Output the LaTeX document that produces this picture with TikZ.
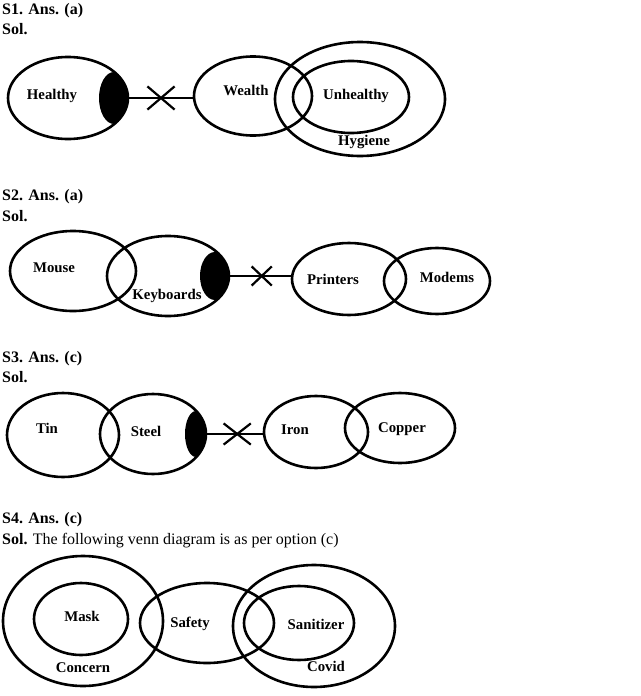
\documentclass[tikz,border=0pt]{standalone}
\usepackage{fontspec}
\setmainfont{Liberation Serif}
\usetikzlibrary{shapes.geometric,shapes.misc}
\tikzset{
  setel/.style={draw=black, ellipse, line width=2.6pt, inner sep=0pt},
  lab/.style={font=\fontsize{14.8}{16}\selectfont\bfseries, anchor=base, inner sep=0pt},
  head/.style={font=\fontsize{16}{18}\selectfont, anchor=base west, inner sep=0pt},
  link/.style={line width=2.2pt},
  xmark/.style={draw, cross out, line width=2.2pt, inner sep=0pt},
}
\begin{document}
\begin{tikzpicture}[x=1pt,y=-1pt]
\useasboundingbox[fill=white] (0,0) rectangle (640,696);

% ---------- S1 ----------
\node[head] (h1) at (2,14) {\textbf{S1. Ans. (a)}};
\node[head] (s1) at (2,34) {\textbf{Sol.}};
\begin{scope}
  \clip (68,98) ellipse [x radius=60, y radius=41];
  \fill (114,98) ellipse [x radius=15, y radius=26];
\end{scope}
\node[setel, minimum width=120pt, minimum height=82pt] (healthy) at (68,98) {};
\node[setel, minimum width=118pt, minimum height=79pt] (wealth) at (253,96) {};
\node[setel, minimum width=116pt, minimum height=72pt] (unhealthy) at (351,97) {};
\node[setel, minimum width=170pt, minimum height=114pt] (hygiene) at (360,99) {};
\draw[link] (healthy.east) -- node[xmark, minimum width=25pt, minimum height=21pt, pos=0.5] (x1) {} (healthy.east -| wealth.west);
\node[lab] (lhealthy) at (52,99) {Healthy};
\node[lab] (lwealth) at (246,95) {Wealth};
\node[lab] (lunhealthy) at (356,99) {Unhealthy};
\node[lab] (lhygiene) at (364,145) {Hygiene};

% ---------- S2 ----------
\node[head] (h2) at (2,200) {\textbf{S2. Ans. (a)}};
\node[head] (s2) at (2,221) {\textbf{Sol.}};
\begin{scope}
  \clip (168,276) ellipse [x radius=61, y radius=40];
  \fill (215,276) ellipse [x radius=15, y radius=24];
\end{scope}
\node[setel, minimum width=126pt, minimum height=80pt] (mouse) at (73,271) {};
\node[setel, minimum width=122pt, minimum height=80pt] (keyboards) at (168,276) {};
\node[setel, minimum width=114pt, minimum height=72pt] (printers) at (349,279) {};
\node[setel, minimum width=106pt, minimum height=66pt] (modems) at (437,281) {};
\draw[link] (keyboards.east) -- node[xmark, minimum width=18pt, minimum height=17pt, pos=0.52] (x2) {} (keyboards.east -| printers.west);
\node[lab] (lmouse) at (54,272) {Mouse};
\node[lab] (lkeyboards) at (167,299) {Keyboards};
\node[lab] (lprinters) at (333,284) {Printers};
\node[lab] (lmodems) at (447,282) {Modems};

% ---------- S3 ----------
\node[head] (h3) at (2,362) {\textbf{S3. Ans. (c)}};
\node[head] (s3) at (2,382) {\textbf{Sol.}};
\begin{scope}
  \clip (153,434) ellipse [x radius=53, y radius=40];
  \fill (196,434) ellipse [x radius=11, y radius=23];
\end{scope}
\node[setel, minimum width=112pt, minimum height=84pt] (tin) at (63,435) {};
\node[setel, minimum width=106pt, minimum height=80pt] (steel) at (153,434) {};
\node[setel, minimum width=104pt, minimum height=72pt] (iron) at (316,432) {};
\node[setel, minimum width=110pt, minimum height=70pt] (copper) at (400,428) {};
\draw[link] (steel.east) -- node[xmark, minimum width=25pt, minimum height=19pt, pos=0.54] (x3) {} (steel.east -| iron.west);
\node[lab] (ltin) at (47,433) {Tin};
\node[lab] (lsteel) at (146,436) {Steel};
\node[lab] (liron) at (295,434) {Iron};
\node[lab] (lcopper) at (402,432) {Copper};

% ---------- S4 ----------
\node[head] (h4) at (2,523) {\textbf{S4. Ans. (c)}};
\node[head] (s4) at (2,544) {\textbf{Sol.} The following venn diagram is as per option (c)};
\node[setel, minimum width=160pt, minimum height=130pt] (concern) at (83,621) {};
\node[setel, minimum width=94pt, minimum height=72pt] (mask) at (81,619) {};
\node[setel, minimum width=134pt, minimum height=80pt] (safety) at (207,623) {};
\node[setel, minimum width=162pt, minimum height=122pt] (covid) at (314,626) {};
\node[setel, minimum width=110pt, minimum height=74pt] (sanitizer) at (299,623) {};
\node[lab] (lmask) at (82,621) {Mask};
\node[lab] (lsafety) at (190,627) {Safety};
\node[lab] (lsanitizer) at (316,629) {Sanitizer};
\node[lab] (lconcern) at (83,672) {Concern};
\node[lab] (lcovid) at (326,671) {Covid};
\end{tikzpicture}
\end{document}
